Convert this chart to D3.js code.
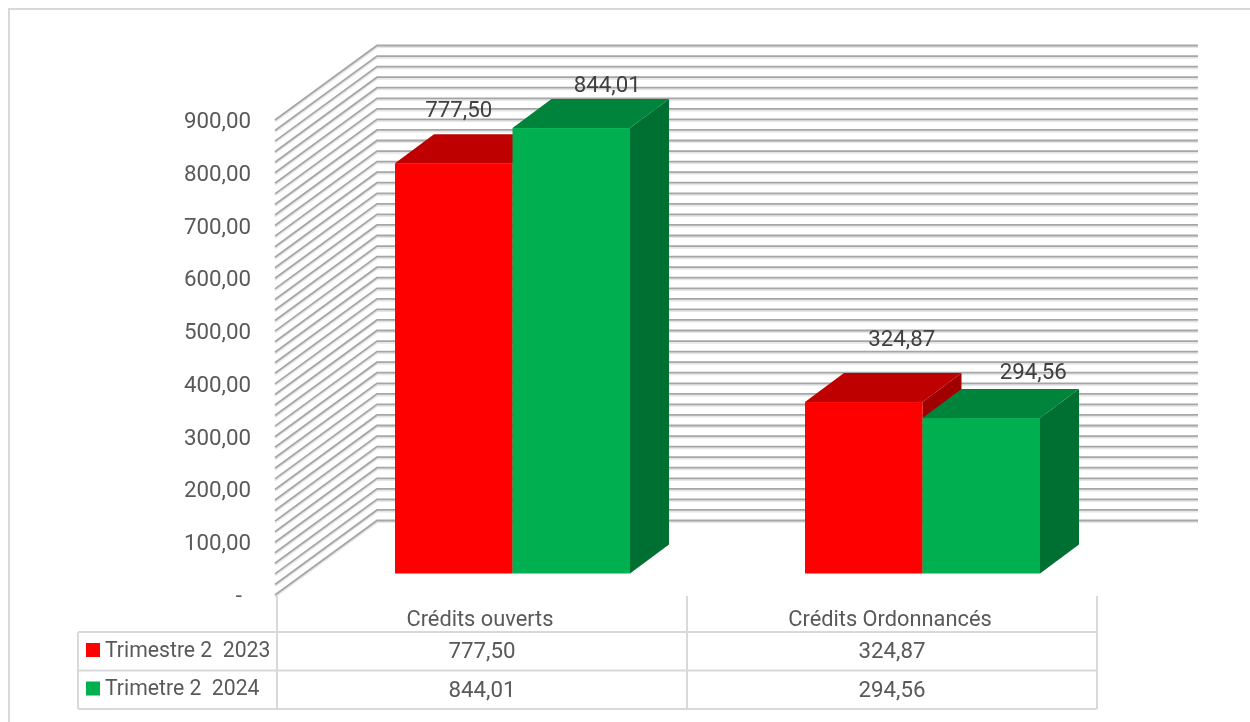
<!DOCTYPE html>
<html>
<head>
<meta charset="utf-8">
<script src="https://cdn.jsdelivr.net/npm/d3@7"></script>
<style>
  html, body { margin: 0; padding: 0; background: #fff; }
  svg { display: block; filter: blur(0.4px); }
  text { font-family: Roboto, "Liberation Sans", sans-serif; fill: #595959; }
</style>
</head>
<body>
<div id="chart"></div>
<script>
const categories = ["Crédits ouverts", "Crédits Ordonnancés"];
const seriesNames = ["Trimestre 2  2023", "Trimetre 2  2024"];
const values2023 = [777.50, 324.87];
const values2024 = [844.01, 294.56];
const labels2023 = ["777,50", "324,87"];
const labels2024 = ["844,01", "294,56"];
const yTicks = [0, 100, 200, 300, 400, 500, 600, 700, 800, 900];
const gridValues = d3.range(0, 901, 20);

const PALETTE = {
  red: { front: "#ff0000", top: "#bf0000", side: "#a00000" },
  green: { front: "#00b050", top: "#00843c", side: "#006f32" },
  grid: "#a6a6a6",
  gridSoft: "#e6e6e6",
  table: "#d9d9d9",
  label: "#404040",
};

const width = 1250, height = 722;
const svg = d3.select("#chart").append("svg")
  .attr("width", width).attr("height", height);

// frame, only top and left are in the crop
svg.append("path")
  .attr("d", "M9,722V9H1250")
  .attr("fill", "none").attr("stroke", PALETTE.table).attr("stroke-width", 2);

// scales: y is the front edge of the floor
const y = d3.scaleLinear().domain([0, 900]).range([595, 120]);
const x0 = d3.scaleBand().domain(categories).range([277, 1097]);
const x1 = d3.scaleBand().domain(seriesNames).range([118, 353]);

// wall depth and bar depth (oblique projection)
const wall = { dx: 102, dy: -74.5 };
const box = { dx: 39, dy: -29, floor: -21.5 };

// grid: side wall + back wall
const grid = svg.append("g").attr("fill", "none");
const gridPath = v => {
  const yy = y(v);
  return `M${x0.range()[0] - 2},${yy}L${x0.range()[0] - 2 + wall.dx},${yy + wall.dy}H1198`;
};
grid.selectAll("path.soft").data(gridValues).join("path")
  .attr("class", "soft")
  .attr("d", gridPath)
  .attr("transform", "translate(0,1.6)")
  .attr("stroke", PALETTE.gridSoft).attr("stroke-width", 2);
grid.selectAll("path.main").data(gridValues).join("path")
  .attr("class", "main")
  .attr("d", gridPath)
  .attr("stroke", PALETTE.grid).attr("stroke-width", 1.8);

// y axis labels
svg.append("g").selectAll("text").data(yTicks).join("text")
  .attr("x", d => d === 0 ? 242 : 251)
  .attr("y", d => y(d))
  .attr("dy", "0.36em")
  .attr("text-anchor", "end")
  .attr("font-size", 22.3)
  .text(d => d === 0 ? "-" : d3.format(".2f")(d).replace(".", ","));

// bars, green of a pair is drawn over the red side face
const series = [
  { name: seriesNames[0], values: values2023, labels: labels2023, color: PALETTE.red, nudge: [[5, -54], [38, -64]] },
  { name: seriesNames[1], values: values2024, labels: labels2024, color: PALETTE.green, nudge: [[36, -44], [52, -47]] },
];
const barY = v => y(v) + box.floor;

categories.forEach((cat, i) => {
  series.forEach(s => {
    const xl = x0(cat) + x1(s.name), xr = xl + x1.bandwidth();
    const top = barY(s.values[i]), base = barY(0);
    const g = svg.append("g");
    g.append("path").attr("fill", s.color.side)
      .attr("d", `M${xr},${top}l${box.dx},${box.dy}V${base + box.dy}L${xr},${base}Z`);
    g.append("path").attr("fill", s.color.top)
      .attr("d", `M${xl},${top}l${box.dx},${box.dy}H${xr + box.dx}L${xr},${top}Z`);
    g.append("rect").attr("fill", s.color.front)
      .attr("x", xl).attr("y", top)
      .attr("width", x1.bandwidth()).attr("height", base - top);
  });
});

// data labels, moved by hand in the original
categories.forEach((cat, i) => {
  series.forEach(s => {
    const xl = x0(cat) + x1(s.name);
    svg.append("text")
      .attr("x", xl + x1.bandwidth() / 2 + s.nudge[i][0])
      .attr("y", barY(s.values[i]) + s.nudge[i][1])
      .attr("dy", "0.36em")
      .attr("text-anchor", "middle")
      .attr("font-size", 22.3)
      .style("fill", PALETTE.label)
      .text(s.labels[i]);
  });
});

// data table under the chart
const tableRows = [632, 670.5, 709];
const tableLeft = 78;
const table = svg.append("g").attr("stroke", PALETTE.table).attr("stroke-width", 2);
tableRows.forEach(r => table.append("line")
  .attr("x1", tableLeft).attr("x2", 1097).attr("y1", r).attr("y2", r));
table.append("line").attr("x1", tableLeft).attr("x2", tableLeft).attr("y1", 632).attr("y2", 709);
[277, 687, 1097].forEach(xx => table.append("line")
  .attr("x1", xx).attr("x2", xx).attr("y1", 596).attr("y2", 709));

categories.forEach((cat, i) => {
  const cx = x0(cat) + x0.bandwidth() / 2;
  svg.append("text").attr("x", cx - 2).attr("y", 618).attr("dy", "0.36em")
    .attr("text-anchor", "middle").attr("font-size", 21.8).text(cat);
  series.forEach((s, k) => {
    svg.append("text").attr("x", cx).attr("y", 650 + k * 38.5).attr("dy", "0.36em")
      .attr("text-anchor", "middle").attr("font-size", 22.3).text(s.labels[i]);
  });
});

series.forEach((s, k) => {
  const cy = 650 + k * 38.5;
  svg.append("rect").attr("x", 86).attr("y", cy - 7).attr("width", 14).attr("height", 14)
    .attr("fill", s.color.front);
  svg.append("text").attr("x", 105).attr("y", cy - 1).attr("dy", "0.36em")
    .attr("font-size", 21.2).style("white-space", "pre").text(s.name);
});
</script>
</body>
</html>
